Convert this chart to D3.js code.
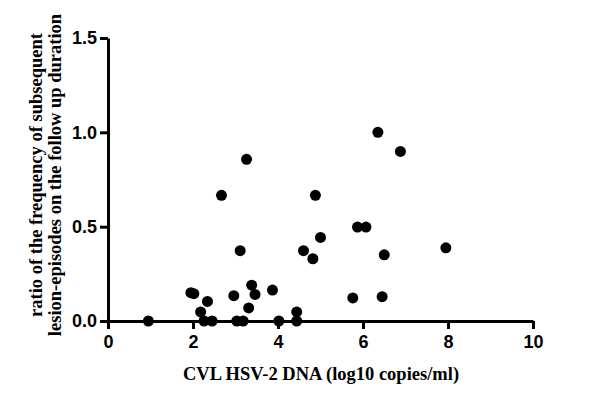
<!DOCTYPE html>
<html>
<head>
<meta charset="utf-8">
<script src="https://cdn.jsdelivr.net/npm/d3@7"></script>
<style>
  body { margin: 0; background: #fff; }
  .tick text { font-family: "Liberation Sans", Arial, sans-serif; font-weight: bold; font-size: 18px; fill: #000; }
  .axis-title { font-family: "Liberation Serif", "Times New Roman", serif; font-weight: bold; font-size: 18.5px; fill: #000; }
</style>
</head>
<body>
<svg id="chart" width="600" height="401"></svg>
<script>
// CVL HSV-2 DNA (log10 copies/ml)
let xValues = [0.95, 1.95, 2.02, 2.18, 2.26, 2.34, 2.45, 2.67, 2.96, 3.03, 3.11, 3.18, 3.26, 3.31, 3.38, 3.46,
               3.87, 4.02, 4.44, 4.44, 4.60, 4.82, 4.88, 5.00, 5.76, 5.87, 6.07, 6.35, 6.45, 6.50, 6.88, 7.95];
// ratio of subsequent lesion-episodes
let yValues = [0.00, 0.150, 0.145, 0.048, 0.00, 0.104, 0.00, 0.666, 0.134, 0.00, 0.373, 0.00, 0.857, 0.069, 0.190, 0.141,
               0.164, 0.00, 0.048, 0.00, 0.373, 0.330, 0.666, 0.443, 0.122, 0.498, 0.498, 1.000, 0.129, 0.351, 0.899, 0.388];
let xTicks = [0, 2, 4, 6, 8, 10];
let yTicks = [0, 0.5, 1.0, 1.5];

let margin = { top: 38, left: 108 },
    width = 425,
    height = 283;

let svg = d3.select('#chart')
    .append('g')
    .attr('transform', 'translate(' + margin.left + ',' + margin.top + ')');

let xScale = d3.scaleLinear().domain([0, 10]).range([0, width]);
let yScale = d3.scaleLinear().domain([0, 1.5]).range([height, 0]);

let xAxis = svg.append('g')
    .attr('transform', 'translate(0,' + height + ')')
    .call(d3.axisBottom(xScale).tickValues(xTicks).tickSize(8).tickSizeOuter(0).tickPadding(6).tickFormat(d3.format('d')));

let yAxis = svg.append('g')
    .call(d3.axisLeft(yScale).tickValues(yTicks).tickSize(8).tickSizeOuter(0).tickPadding(3).tickFormat(d3.format('.1f')));

[xAxis, yAxis].forEach(ax => {
    ax.selectAll('.domain').attr('stroke', '#000').attr('stroke-width', 3);
    ax.selectAll('.tick line').attr('stroke', '#000').attr('stroke-width', 3);
});

// points
let points = xValues.map((x, i) => ({ x: x, y: yValues[i] }));
svg.append('g')
    .selectAll('circle')
    .data(points)
    .enter()
    .append('circle')
    .attr('cx', d => xScale(d.x))
    .attr('cy', d => yScale(d.y))
    .attr('r', 5.5)
    .attr('fill', '#000');

// axis titles
svg.append('text')
    .attr('class', 'axis-title')
    .attr('x', 213)
    .attr('y', 342)
    .attr('text-anchor', 'middle')
    .text('CVL HSV-2 DNA (log10 copies/ml)');

let yTitle = svg.append('text')
    .attr('class', 'axis-title')
    .attr('text-anchor', 'middle')
    .attr('transform', 'translate(-66,137) rotate(-90)');

yTitle.append('tspan').attr('x', 0).attr('y', 0).text('ratio of the frequency of subsequent');
yTitle.append('tspan').attr('x', 0).attr('y', 19).text('lesion-episodes on the follow up duration');
</script>
</body>
</html>
